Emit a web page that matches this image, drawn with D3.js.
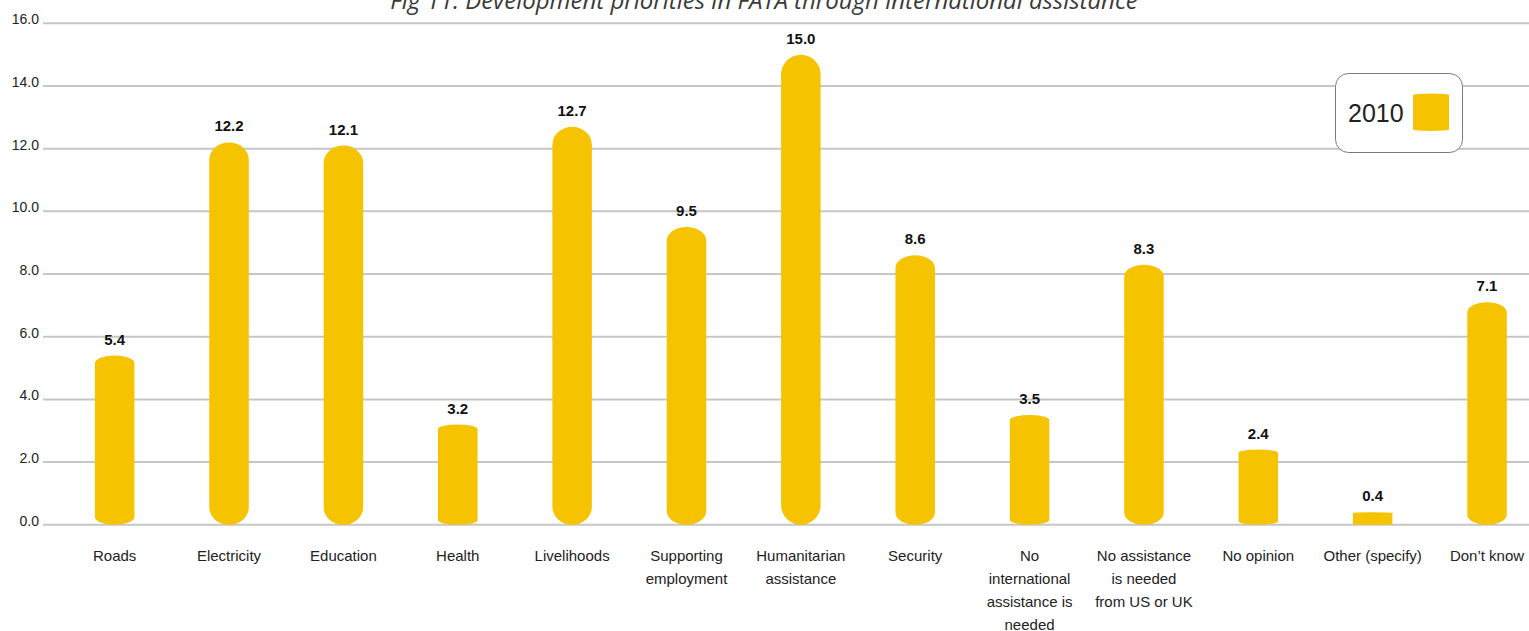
<!DOCTYPE html>
<html>
<head>
<meta charset="utf-8">
<script src="https://cdn.jsdelivr.net/npm/d3@7"></script>
<style>
  html, body { margin: 0; padding: 0; background: #fff; }
  svg { display: block; }
</style>
</head>
<body>
<svg id="chart" width="1529" height="631"></svg>
<script>
// Survey responses (%), 2010
const categories = [
  ["Roads"],
  ["Electricity"],
  ["Education"],
  ["Health"],
  ["Livelihoods"],
  ["Supporting", "employment"],
  ["Humanitarian", "assistance"],
  ["Security"],
  ["No", "international", "assistance is", "needed"],
  ["No assistance", "is needed", "from US or UK"],
  ["No opinion"],
  ["Other (specify)"],
  ["Don’t know"]
];
const values2010 = [5.4, 12.2, 12.1, 3.2, 12.7, 9.5, 15.0, 8.6, 3.5, 8.3, 2.4, 0.4, 7.1];
const yTicks = [0, 2, 4, 6, 8, 10, 12, 14, 16];
const seriesName = "2010";
const title = "Fig 11: Development priorities in FATA through international assistance";

const barColor = "#F6C300";
const gridColor = "#C6C6C6";

const svg = d3.select("#chart");

const x = d3.scaleBand()
  .domain(d3.range(categories.length))
  .range([57.5, 1544.2])
  .padding(0);

const y = d3.scaleLinear()
  .domain([0, 16])
  .range([524.8, 23.3]);

const barW = 39.5;

// Bar outline: straight sides with elliptical caps top and bottom,
// cap depth grows with bar height.
function barPath(cx, top, bottom, w) {
  const rx = w / 2;
  const h = bottom - top;
  const ry = Math.max(0.3, Math.min(rx, h * 0.046));
  const x0 = cx - rx, x1 = cx + rx;
  return `M${x0},${top + ry}` +
    `A${rx},${ry} 0 0 1 ${x1},${top + ry}` +
    `L${x1},${bottom - ry}` +
    `A${rx},${ry} 0 0 1 ${x0},${bottom - ry}Z`;
}

// Title (runs off the top edge)
svg.append("text")
  .attr("x", 764)
  .attr("y", 9)
  .attr("text-anchor", "middle")
  .attr("font-family", "'Open Sans', sans-serif")
  .attr("font-style", "italic")
  .attr("font-size", 24)
  .attr("fill", "#3a3a3a")
  .text(title);

// Gridlines
svg.append("g")
  .selectAll("line")
  .data(yTicks)
  .join("line")
  .attr("x1", 43)
  .attr("x2", 1529)
  .attr("y1", d => y(d))
  .attr("y2", d => y(d))
  .attr("stroke", gridColor)
  .attr("stroke-width", 2);

// Y axis labels
svg.append("g")
  .selectAll("text")
  .data(yTicks)
  .join("text")
  .attr("x", 39)
  .attr("y", d => y(d) + 1)
  .attr("text-anchor", "end")
  .attr("font-family", "Arial, 'Liberation Sans', sans-serif")
  .attr("font-size", 14)
  .attr("fill", "#222")
  .text(d => d.toFixed(1));

// Bars
const bars = svg.append("g");
bars.selectAll("path")
  .data(values2010)
  .join("path")
  .attr("d", (d, i) => barPath(x(i) + x.bandwidth() / 2, y(d), y(0), barW))
  .attr("fill", barColor);

// Value labels
svg.append("g")
  .selectAll("text")
  .data(values2010)
  .join("text")
  .attr("x", (d, i) => x(i) + x.bandwidth() / 2)
  .attr("y", d => y(d) - 11)
  .attr("text-anchor", "middle")
  .attr("font-family", "Arial, 'Liberation Sans', sans-serif")
  .attr("font-weight", "bold")
  .attr("font-size", 15)
  .attr("fill", "#111")
  .text(d => d.toFixed(1));

// Category labels (multi-line)
const cat = svg.append("g")
  .selectAll("text")
  .data(categories)
  .join("text")
  .attr("x", (d, i) => x(i) + x.bandwidth() / 2)
  .attr("y", 561)
  .attr("text-anchor", "middle")
  .attr("font-family", "Arial, 'Liberation Sans', sans-serif")
  .attr("font-size", 15)
  .attr("fill", "#222");
cat.selectAll("tspan")
  .data(d => d)
  .join("tspan")
  .attr("x", function () { return d3.select(this.parentNode).attr("x"); })
  .attr("dy", (d, j) => j === 0 ? 0 : 23)
  .text(d => d);

// Legend
const legend = svg.append("g");
legend.append("rect")
  .attr("x", 1335.5)
  .attr("y", 73.5)
  .attr("width", 127)
  .attr("height", 79)
  .attr("rx", 13)
  .attr("fill", "#fff")
  .attr("stroke", "#7a7a7a")
  .attr("stroke-width", 1);
legend.append("text")
  .attr("x", 1348)
  .attr("y", 122)
  .attr("font-family", "Arial, 'Liberation Sans', sans-serif")
  .attr("font-size", 25)
  .attr("fill", "#222")
  .text(seriesName);
legend.append("path")
  .attr("d", () => {
    const rx = 18, ry = 1.5, l = 1413, r = 1449, t = 93.5, b = 131;
    return `M${l},${t + ry}A${rx},${ry} 0 0 1 ${r},${t + ry}` +
      `L${r},${b - ry}A${rx},${ry} 0 0 1 ${l},${b - ry}Z`;
  })
  .attr("fill", barColor);
</script>
</body>
</html>
